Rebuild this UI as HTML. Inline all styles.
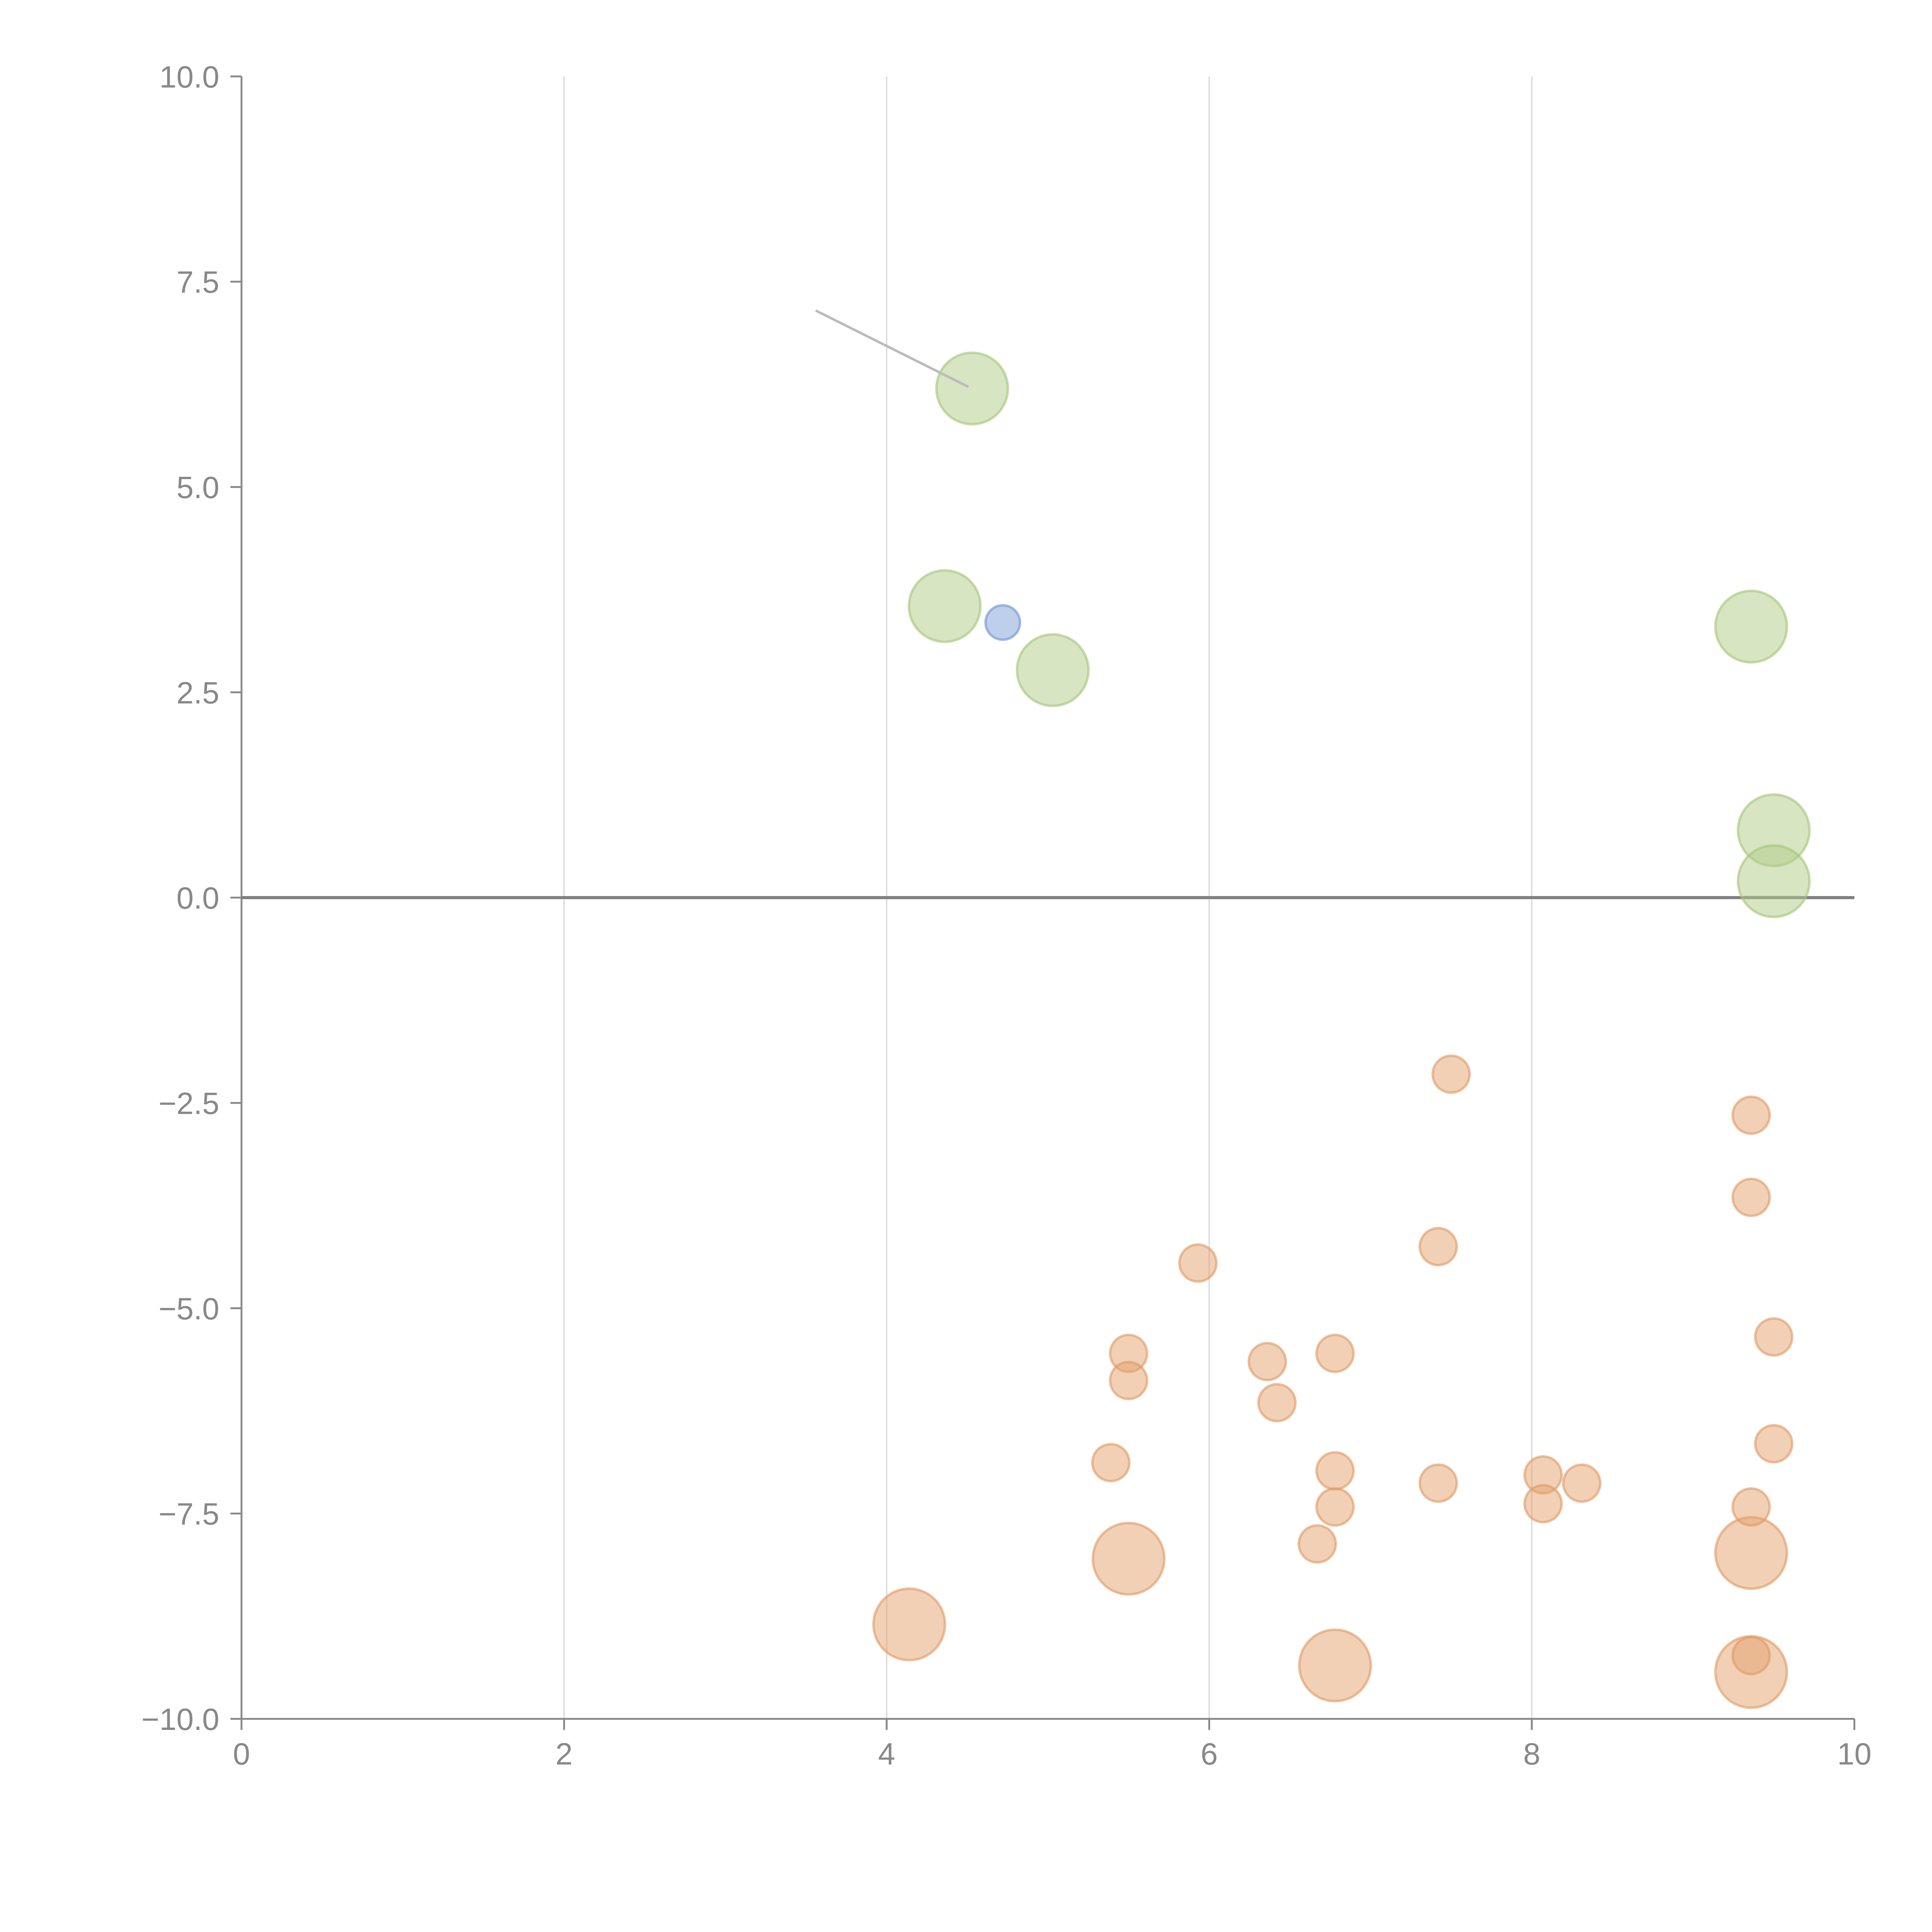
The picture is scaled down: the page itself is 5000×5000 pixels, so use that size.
<!DOCTYPE html>
<html><head><meta charset="utf-8"><style>html,body{margin:0;padding:0;background:#fff}svg{display:block}</style></head>
<body>
<svg id="chart" xmlns="http://www.w3.org/2000/svg" width="5000" height="5000" viewBox="0 0 1568 1568" font-family="Liberation Sans, sans-serif">
<g id="grid"></g>
<g id="axes"></g>
<g id="marks"></g>
<line x1="662" y1="252" x2="786" y2="314" stroke="#bbb" stroke-width="2"/>
</svg>
<script>
const xTicks=[0,2,4,6,8,10];
const yTicks=[10,7.5,5,2.5,0,-2.5,-5,-7.5,-10];
const yTickLabels=["10.0","7.5","5.0","2.5","0.0","−2.5","−5.0","−7.5","−10.0"];
const greenX=[4.53,4.36,5.03,9.36,9.5,9.5];
const greenY=[6.2,3.55,2.77,3.3,0.82,0.2];
const blueX=[4.72];
const blueY=[3.35];
const orangeSmallX=[7.5,9.36,9.36,5.93,7.42,9.5,5.5,6.36,6.78,5.5,6.42,9.5,5.39,6.78,8.07,8.31,7.42,6.78,8.07,9.36,6.67,9.36];
const orangeSmallY=[-2.15,-2.65,-3.65,-4.45,-4.25,-5.35,-5.55,-5.65,-5.55,-5.88,-6.15,-6.65,-6.88,-6.98,-7.03,-7.13,-7.13,-7.42,-7.38,-7.42,-7.87,-9.23];
const orangeLargeX=[4.14,5.5,9.36,6.78,9.36];
const orangeLargeY=[-8.85,-8.05,-7.98,-9.35,-9.43];
const NS='http://www.w3.org/2000/svg';
const X0=196,X1=1505,Y0=1395,Y1=62;
function sx(v){return X0+(v-0)/(10-0)*(X1-X0);}
function sy(v){return Y0-(v+10)/20*(Y0-Y1);}
function mk(tag,attrs,parent){const e=document.createElementNS(NS,tag);for(const k in attrs)e.setAttribute(k,attrs[k]);parent.appendChild(e);return e;}
const grid=document.getElementById('grid'),axes=document.getElementById('axes'),marks=document.getElementById('marks');
xTicks.forEach(t=>{
  if(t>0&&t<10){const l=mk('line',{x1:sx(t),x2:sx(t),y1:Y1,y2:Y0,stroke:'#dcdcdc','stroke-width':1.2},grid);
  
  }
  const tk=mk('line',{x1:sx(t),x2:sx(t),y1:Y0,y2:Y0+9,stroke:'#888','stroke-width':1.5},axes);
  
  
  const tx=mk('text',{x:sx(t),y:Y0+37,'text-anchor':'middle','font-size':25,fill:'#888'},axes);
  tx.textContent=String(t);
  
  
});
yTicks.forEach((t,i)=>{
  const tk=mk('line',{x1:X0-9,x2:X0,y1:sy(t),y2:sy(t),stroke:'#888','stroke-width':1.5},axes);
  
  
  const tx=mk('text',{x:X0-18,y:sy(t)+9,'text-anchor':'end','font-size':25,fill:'#888'},axes);
  tx.textContent=yTickLabels[i];
  
  
});
const ya=mk('line',{x1:X0,x2:X0,y1:Y1,y2:Y0,stroke:'#888','stroke-width':1.5},axes);


const xa=mk('line',{x1:X0,x2:X1,y1:Y0,y2:Y0,stroke:'#888','stroke-width':1.5},axes);


const zl=mk('line',{x1:X0,x2:X1,y1:sy(0),y2:sy(0),stroke:'#808080','stroke-width':2.5},axes);


function bubbles(xs,ys,r,fill,stroke,name){
  xs.forEach((x,i)=>{
    const c=mk('circle',{cx:sx(x),cy:sy(ys[i]),r:r,fill:fill,'fill-opacity':0.5,stroke:stroke,'stroke-opacity':0.6,'stroke-width':2},marks);
    
    
  });
}
bubbles(orangeLargeX,orangeLargeY,29,'#e3a16e','#e09a62','bubble-orange-large');
bubbles(orangeSmallX,orangeSmallY,15,'#e3a16e','#e09a62','bubble-orange');
bubbles(greenX,greenY,29,'#b0cc88','#a3c477','bubble-green');
bubbles(blueX,blueY,14,'#7b9fd6','#6d93d0','bubble-blue');
</script>
</body></html>
